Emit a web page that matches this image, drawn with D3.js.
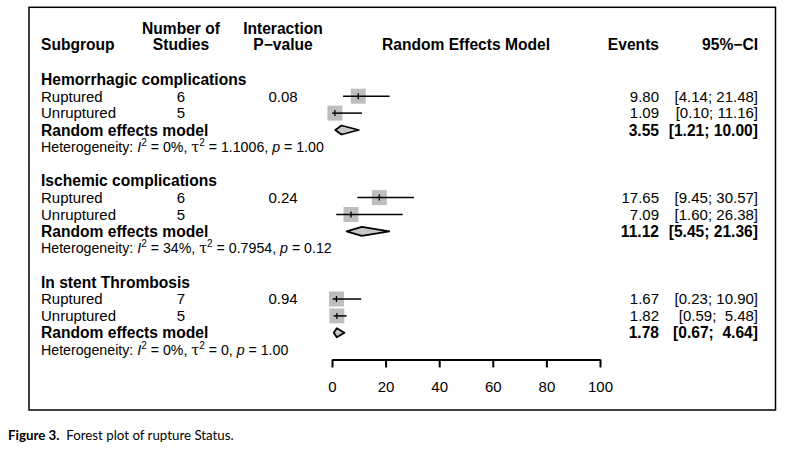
<!DOCTYPE html>
<html>
<head>
<meta charset="utf-8">
<script src="https://cdn.jsdelivr.net/npm/d3@7"></script>
<style>
  body { margin: 0; background: #fff; }
  text { font-family: "Liberation Sans", Arial, sans-serif; fill: #000; }
</style>
</head>
<body>
<svg id="chart" width="811" height="450"></svg>
<script>
// data
const groups = ["Hemorrhagic complications", "Ischemic complications", "In stent Thrombosis"];
const subgroups = ["Ruptured", "Unruptured"];
const nStudies = [[6, 5], [6, 5], [7, 5]];
const pInteraction = ["0.08", "0.24", "0.94"];
const estimates = [[9.80, 1.09], [17.65, 7.09], [1.67, 1.82]];
const lowerCI = [[4.14, 0.10], [9.45, 1.60], [0.23, 0.59]];
const upperCI = [[21.48, 11.16], [30.57, 26.38], [10.90, 5.48]];
const pooled = [3.55, 11.12, 1.78];
const pooledLower = [1.21, 5.45, 0.67];
const pooledUpper = [10.00, 21.36, 4.64];
const hetI2 = ["0%", "34%", "0%"];
const hetTau2 = ["1.1006", "0.7954", "0"];
const hetP = ["1.00", "0.12", "1.00"];
const xTicks = [0, 20, 40, 60, 80, 100];

const svg = d3.select("#chart");

const fs = 15, fsBold = 15.6, fsHet = 14.2;

const x = d3.scaleLinear().domain([0, 100]).range([332, 600]);
// row index -> vertical centre of the row
const y = d3.scaleLinear().domain([0, 16]).range([79.3, 79.3 + 16 * 16.9]);

const col = { sub: 41, studies: 181, pval: 283, events: 659, ci: 758 };

// frame
svg.append("rect")
  .attr("x", 29).attr("y", 7.3)
  .attr("width", 746.5).attr("height", 402.7)
  .attr("fill", "none").attr("stroke", "#000").attr("stroke-width", 1.5);

function label(txt, xx, yc, opts) {
  opts = opts || {};
  const size = opts.size || fs;
  return svg.append("text")
    .attr("x", xx)
    .attr("y", yc + 0.358 * size)
    .attr("text-anchor", opts.anchor || "start")
    .style("font-size", size + "px")
    .style("font-weight", opts.bold ? "bold" : "normal")
    .style("white-space", "pre")
    .text(txt);
}

function fmt(v) { return v.toFixed(2); }
function ciText(lo, hi) {
  const h = fmt(hi);
  return "[" + fmt(lo) + "; " + (h.length < 5 ? " " : "") + h + "]";
}

// headers
label("Subgroup", col.sub, 44.7, { bold: true, size: fsBold });
label("Number of", col.studies, 28, { bold: true, size: fsBold, anchor: "middle" });
label("Studies", col.studies, 44.7, { bold: true, size: fsBold, anchor: "middle" });
label("Interaction", col.pval, 28, { bold: true, size: fsBold, anchor: "middle" });
label("P\u2212value", col.pval, 44.7, { bold: true, size: fsBold, anchor: "middle" });
label("Random Effects Model", (x(0) + x(100)) / 2, 44.7, { bold: true, size: fsBold, anchor: "middle" });
label("Events", col.events, 44.7, { bold: true, size: fsBold, anchor: "end" });
label("95%\u2212CI", col.ci, 44.7, { bold: true, size: fsBold, anchor: "end" });

groups.forEach((g, gi) => {
  const r0 = gi * 6;
  label(g, col.sub, y(r0), { bold: true, size: fsBold });

  subgroups.forEach((s, si) => {
    const yc = y(r0 + 1 + si);
    label(s, col.sub, yc);
    label(String(nStudies[gi][si]), col.studies, yc, { anchor: "middle" });
    if (si === 0) label(pInteraction[gi], col.pval, yc, { anchor: "middle" });
    label(fmt(estimates[gi][si]), col.events, yc, { anchor: "end" });
    label(ciText(lowerCI[gi][si], upperCI[gi][si]), col.ci, yc, { anchor: "end" });

    // square
    const sq = 15;
    svg.append("rect")
      .attr("x", x(estimates[gi][si]) - sq / 2)
      .attr("y", yc - sq / 2)
      .attr("width", sq).attr("height", sq)
      .attr("fill", "#bebebe");
    // CI line
    svg.append("line")
      .attr("x1", x(lowerCI[gi][si])).attr("x2", x(upperCI[gi][si]))
      .attr("y1", yc).attr("y2", yc)
      .attr("stroke", "#000").attr("stroke-width", 1.5);
    // estimate tick
    svg.append("line")
      .attr("x1", x(estimates[gi][si])).attr("x2", x(estimates[gi][si]))
      .attr("y1", yc - 3).attr("y2", yc + 3)
      .attr("stroke", "#000").attr("stroke-width", 1.3);
  });

  // pooled row
  const yp = y(r0 + 3);
  label("Random effects model", col.sub, yp, { bold: true, size: fsBold });
  label(fmt(pooled[gi]), col.events, yp, { bold: true, size: fsBold, anchor: "end" });
  label(ciText(pooledLower[gi], pooledUpper[gi]), col.ci, yp, { bold: true, size: fsBold, anchor: "end" });

  const dh = 4.5;
  svg.append("path")
    .attr("d", d3.line()([
      [x(pooledLower[gi]), yp],
      [x(pooled[gi]), yp - dh],
      [x(pooledUpper[gi]), yp],
      [x(pooled[gi]), yp + dh]
    ]) + "Z")
    .attr("fill", "#c8c8c8")
    .attr("stroke", "#000")
    .attr("stroke-width", 1.8)
    .attr("stroke-linejoin", "round");

  // heterogeneity
  const yh = y(r0 + 4);
  const het = svg.append("text")
    .attr("x", col.sub)
    .attr("y", yh + 0.358 * fsHet)
    .style("font-size", fsHet + "px");
  het.append("tspan").text("Heterogeneity: ");
  het.append("tspan").style("font-style", "italic").text("I");
  het.append("tspan").attr("dy", -6).style("font-size", "10px").text("2");
  het.append("tspan").attr("dy", 6).text(" = " + hetI2[gi] + ", ");
  het.append("tspan").style("font-family", "'DejaVu Serif', serif").text("\u03c4");
  het.append("tspan").attr("dy", -6).style("font-size", "10px").text("2");
  het.append("tspan").attr("dy", 6).text(" = " + hetTau2[gi] + ", ");
  het.append("tspan").style("font-style", "italic").text("p");
  het.append("tspan").text(" = " + hetP[gi]);
});

// x axis
const axisY = 359.5;
const axis = svg.append("g")
  .attr("transform", "translate(0," + axisY + ")")
  .call(d3.axisBottom(x).tickValues(xTicks).tickSize(8).tickSizeOuter(0).tickPadding(14));
axis.select(".domain").attr("stroke", "#000").attr("stroke-width", 2);
axis.selectAll(".tick line").attr("stroke", "#000").attr("stroke-width", 2);
axis.selectAll(".tick text")
  .style("font-size", fs + "px")
  .style("font-family", "'Liberation Sans', Arial, sans-serif")
  .attr("fill", "#000");

// caption
const cap = svg.append("text")
  .attr("x", 8).attr("y", 439.5)
  .style("font-family", "Lato, 'Open Sans', sans-serif")
  .style("font-size", "13.3px")
  .style("white-space", "pre");
cap.append("tspan").style("font-weight", "bold").text("Figure 3.");
cap.append("tspan").text("  Forest plot of rupture Status.");
</script>
</body>
</html>
